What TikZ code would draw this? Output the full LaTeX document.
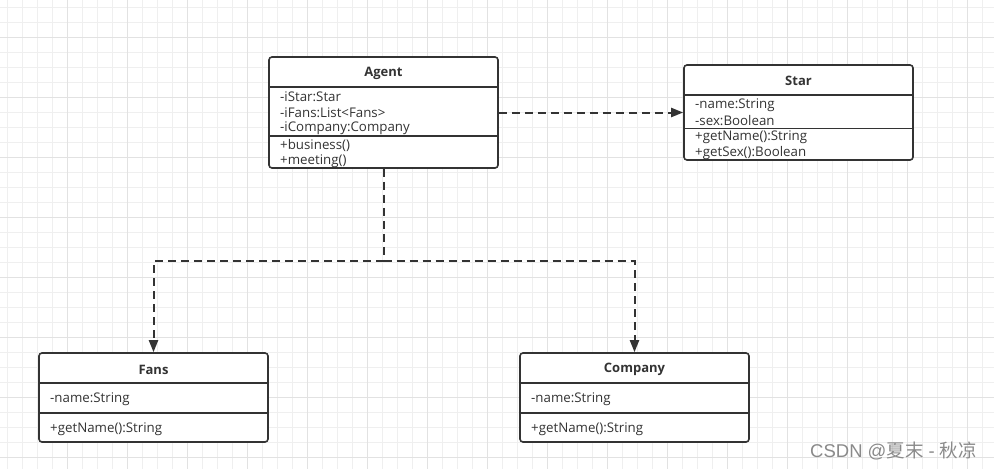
\documentclass[tikz,border=0pt]{standalone}
\usepackage{fontspec}
\setmainfont{Open Sans}
\newfontfamily\cjkfont{Noto Sans CJK SC}
\newfontfamily\wmlatin{Liberation Sans}
\usetikzlibrary{arrows.meta}
\definecolor{ink}{HTML}{333333}
\definecolor{gridminor}{HTML}{EFEFEF}
\definecolor{gridmajor}{HTML}{E2E2E2}
\definecolor{wm}{HTML}{8A8A8A}
\tikzset{
  umlbox/.style={draw=ink, line width=1.6pt, rounded corners=3pt, fill=white, inner sep=0pt},
  divider/.style={draw=ink, line width=1.4pt},
  ttl/.style={font=\fontsize{13}{14}\selectfont\bfseries, text=ink, inner sep=0pt},
  mem/.style={font=\fontsize{13.3}{14}\selectfont, text=ink, inner sep=0pt, anchor=west},
  dep/.style={draw=ink, line width=2pt, dash pattern=on 8pt off 5pt, -{Triangle[length=12pt,width=9pt]}},
  depline/.style={draw=ink, line width=2pt, dash pattern=on 8pt off 5pt}
}
\begin{document}
\begin{tikzpicture}[x=1pt,y=-1pt]
\fill[white] (0,0) rectangle (994,469);
\useasboundingbox (0,0) rectangle (994,469);
% grid
\foreach \x in {7.3,22.3,...,994} {\draw[gridminor, line width=0.8pt] (\x,0) -- (\x,469);}
\foreach \y in {7.3,22.3,...,469} {\draw[gridminor, line width=0.8pt] (0,\y) -- (994,\y);}
\foreach \x in {67.3,127.3,...,994} {\draw[gridmajor, line width=0.9pt] (\x,0) -- (\x,469);}
\foreach \y in {37.3,97.3,...,469} {\draw[gridmajor, line width=0.9pt] (0,\y) -- (994,\y);}

\node[umlbox, minimum width=229pt, minimum height=111pt] (agent) at (383.5,112.5) {};
\node[umlbox, minimum width=229pt, minimum height=95pt] (star) at (798.5,112.5) {};
\node[umlbox, minimum width=229pt, minimum height=89pt] (fans) at (153.5,397.5) {};
\node[umlbox, minimum width=229pt, minimum height=89pt] (company) at (634.5,397.5) {};

\coordinate (j) at (383.5,261);
\draw[dep] (agent.east) -- (star.west);
\draw[depline] (agent.south) -- (j);
\draw[dep] (j) -| (fans.north);
\draw[dep] (j) -| (company.north);

% Agent
\draw[divider] (agent.west |- 0,87) -- (agent.east |- 0,87);
\draw[divider] (agent.west |- 0,136) -- (agent.east |- 0,136);
\node[ttl] (agentT) at (383.5,73) {Agent};
\node[mem] (a1) at (280,96.5) {-iStar:Star};
\node[mem] (a2) at (280,112.5) {-iFans:List<Fans>};
\node[mem] (a3) at (280,128.5) {-iCompany:Company};
\node[mem] (a4) at (280,145.5) {+business()};
\node[mem] (a5) at (280,161) {+meeting()};

% Star
\draw[divider] (star.west |- 0,95) -- (star.east |- 0,95);
\draw[divider] (star.west |- 0,128.5) -- (star.east |- 0,128.5);
\node[ttl] (starT) at (798.5,80.5) {Star};
\node[mem] (s1) at (695,105) {-name:String};
\node[mem] (s2) at (695,120.5) {-sex:Boolean};
\node[mem] (s3) at (695,137.5) {+getName():String};
\node[mem] (s4) at (695,153.5) {+getSex():Boolean};

% Fans
\draw[divider] (fans.west |- 0,383) -- (fans.east |- 0,383);
\draw[divider] (fans.west |- 0,413) -- (fans.east |- 0,413);
\node[ttl] (fansT) at (153.5,369.5) {Fans};
\node[mem] (f1) at (50,399.5) {-name:String};
\node[mem] (f2) at (50,429.5) {+getName():String};

% Company
\draw[divider] (company.west |- 0,383) -- (company.east |- 0,383);
\draw[divider] (company.west |- 0,413) -- (company.east |- 0,413);
\node[ttl] (companyT) at (634.5,369.5) {Company};
\node[mem] (c1) at (531,399.5) {-name:String};
\node[mem] (c2) at (531,429.5) {+getName():String};

% watermark
\node[font=\fontsize{18.5}{20}\selectfont, text=wm, anchor=west, inner sep=0pt] (wmk) at (810,451) {{\wmlatin CSDN @}{\cjkfont 夏末}{\wmlatin\ - }{\cjkfont 秋凉}};
\end{tikzpicture}
\end{document}
